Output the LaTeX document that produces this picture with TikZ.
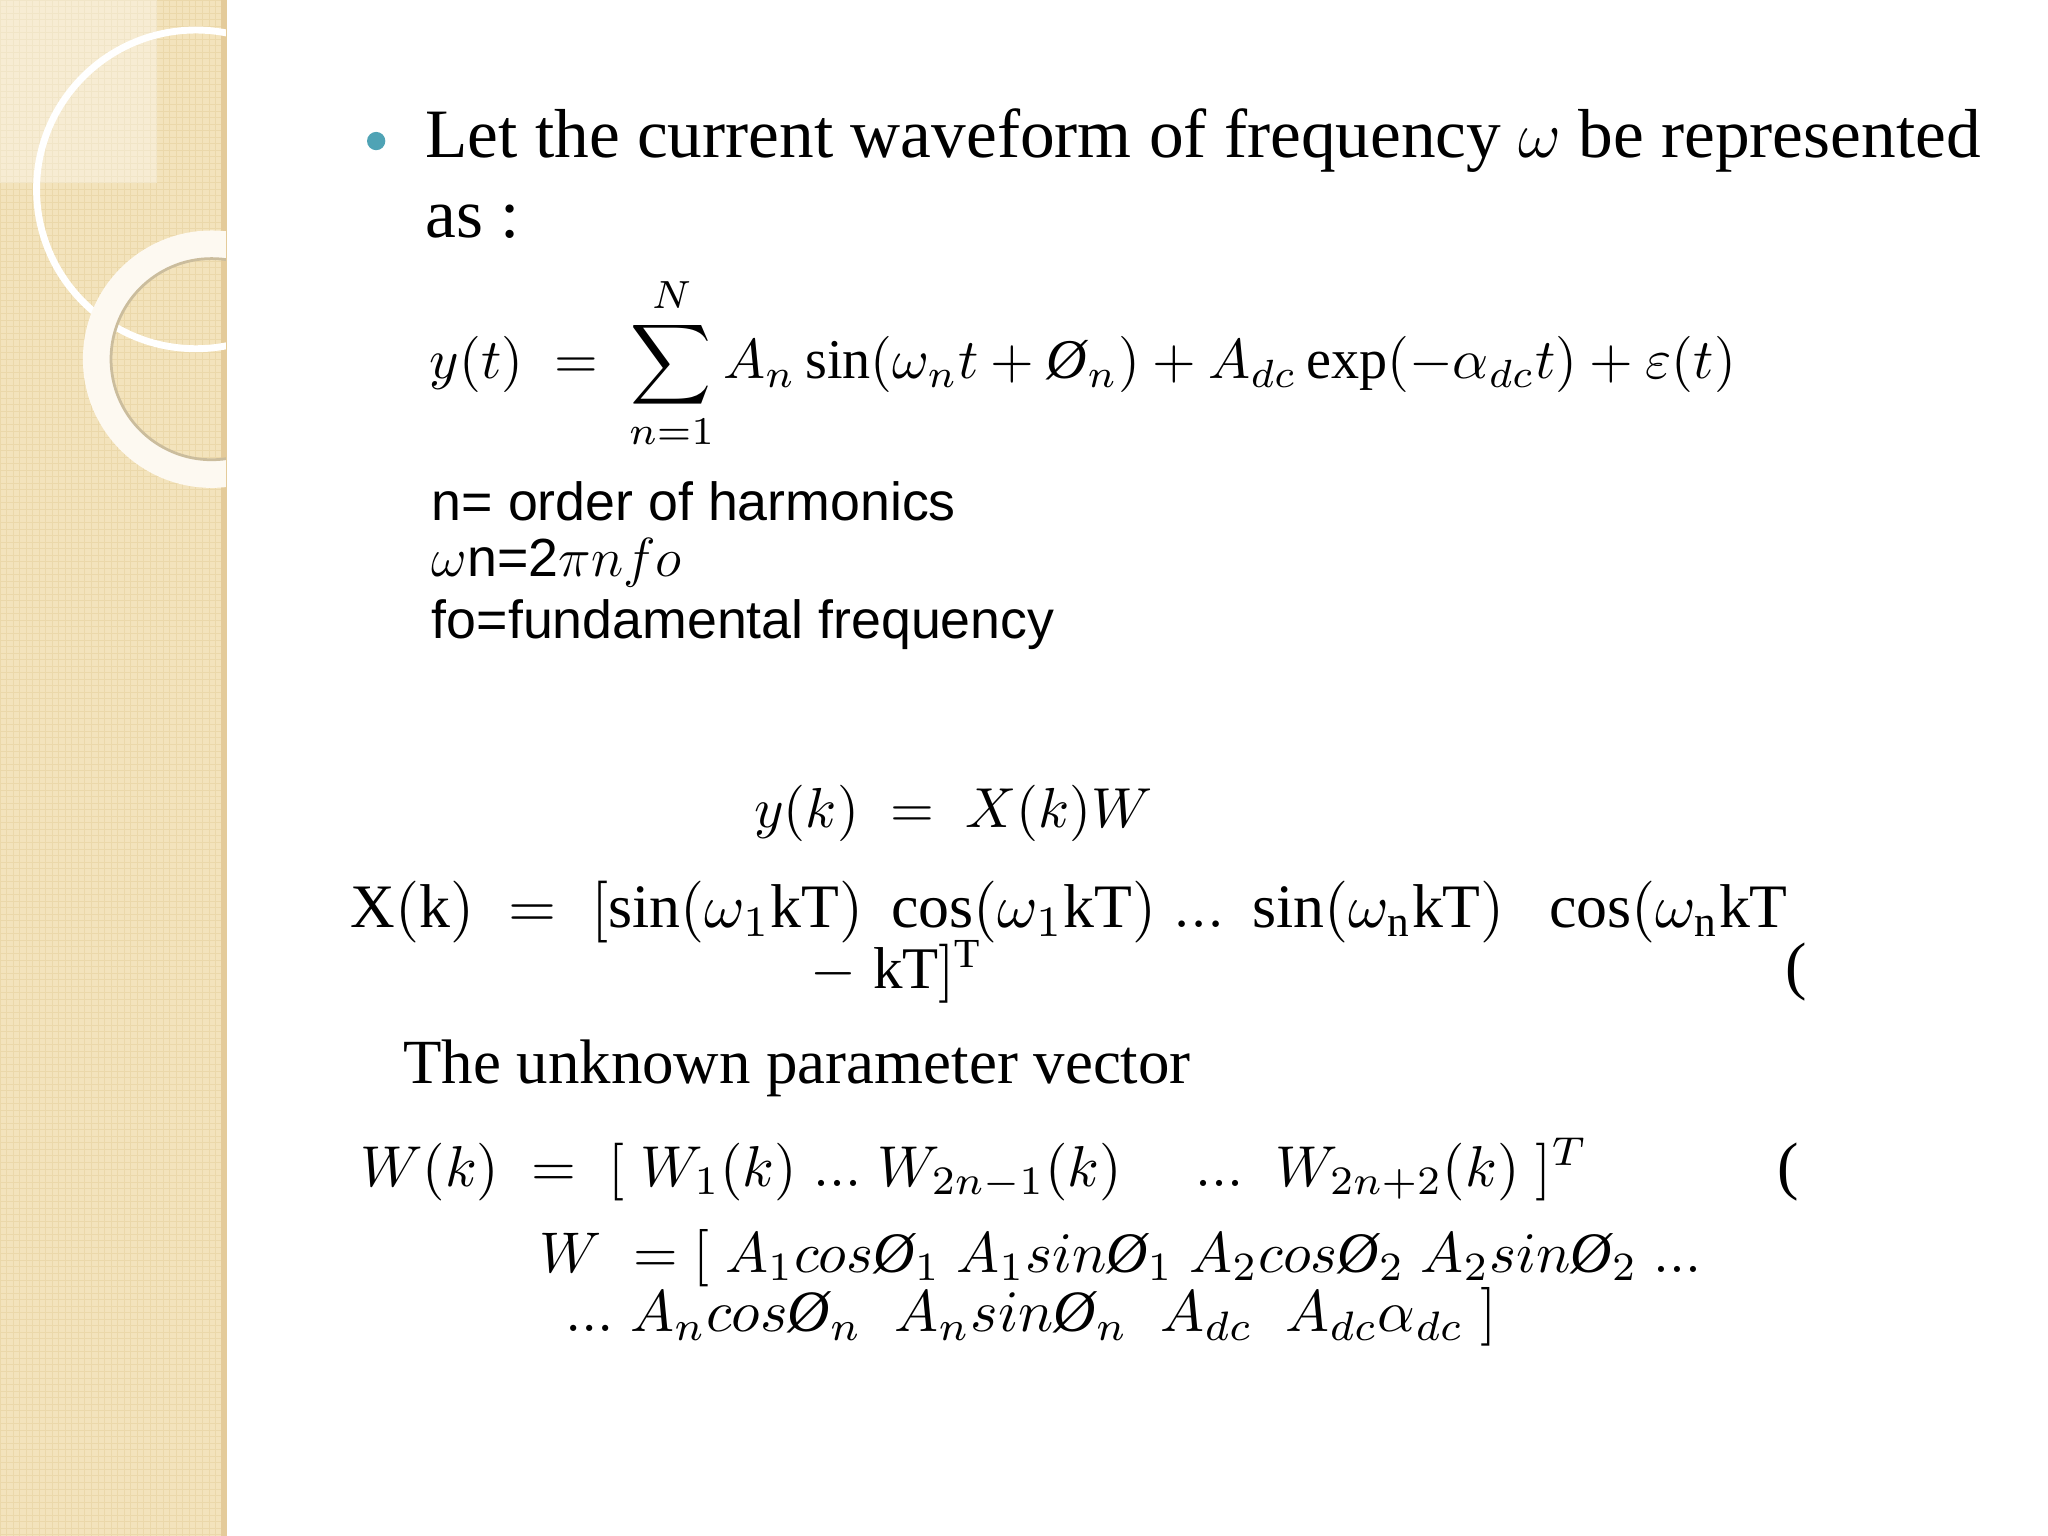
\documentclass[tikz,border=0pt]{standalone}
\usepackage{fontspec}
\usepackage{amsmath}
\setmainfont{Liberation Serif}
\newfontfamily\arialf{Liberation Sans}
\definecolor{band}{HTML}{F3E3BC}
\definecolor{bandd}{HTML}{EBD8AA}
\definecolor{bul}{HTML}{4FA3B5}
\tikzset{txt/.style={anchor=west,inner sep=0pt},eq/.style={anchor=center,inner sep=0pt}}
\begin{document}
\begin{tikzpicture}[x=1cm,y=1cm]
\useasboundingbox (0,0) rectangle (15.68,-11.76);
\fill[white] (0,0) rectangle (15.68,-11.76);
% left band
\fill[band] (0,0) rectangle (1.73,-11.76);
\foreach \i in {0,...,235}{\draw[bandd,line width=0.2pt] (0,-\i/20) -- (1.70,-\i/20);}
\foreach \i in {0,...,34}{\draw[bandd,line width=0.2pt] (\i/20,0) -- (\i/20,-11.76);}
\fill[bandd!85!brown] (1.69,0) rectangle (1.74,-11.76);
\begin{scope}
\clip (0,0) rectangle (1.73,-11.76);
\fill[white,opacity=0.35] (0,0) rectangle (1.2,-1.4);
\draw[white,line width=1.5pt] (1.5,-1.45) circle (1.22);
\draw[white!80!band,line width=6pt] (1.62,-2.75) circle (0.88);
\draw[bandd!70!gray,line width=0.6pt] (1.62,-2.75) circle (0.77);
\end{scope}
% bullet text
\fill[bul] (2.88,-1.08) circle (0.07);
\node[txt] (l1) at (3.25,-1.08) {\fontsize{15.1pt}{18pt}\selectfont Let the current waveform of frequency $\omega$ be represented};
\node[txt] (l2) at (3.25,-1.70) {\fontsize{15.1pt}{18pt}\selectfont as :};
% main equation
\node[eq] (e1) at (8.29,-2.78) {\resizebox{10.0cm}{!}{$\displaystyle y(t)\;=\;\sum_{n=1}^{N} A_n\sin(\omega_n t+\text{\itshape Ø}_n)+A_{dc}\exp(-\alpha_{dc}t)+\varepsilon(t)$}};
% definitions
\node[txt] (d1) at (3.30,-3.84) {\arialf\fontsize{11.7pt}{14pt}\selectfont n= order of harmonics};
\node[txt] (d2) at (3.30,-4.31) {\arialf\fontsize{11.7pt}{14pt}\selectfont $\omega$n=2$\pi n f o$};
\node[txt] (d3) at (3.30,-4.78) {\arialf\fontsize{11.7pt}{14pt}\selectfont fo=fundamental frequency};
% lower equations
\node[eq] (e2) at (7.30,-6.23) {\resizebox{3.05cm}{!}{$y(k)\;=\;X(k)W$}};
\node[txt] (e3) at (2.68,-6.98) {\resizebox{11.0cm}{!}{$\mathrm{X(k)}\;=\;[\sin(\omega_1\mathrm{kT})\;\cos(\omega_1\mathrm{kT})\;...\;\sin(\omega_\mathrm{n}\mathrm{kT})\;\;\cos(\omega_\mathrm{n}\mathrm{kT}$}};
\node[txt] (e4) at (6.20,-7.44) {\resizebox{1.32cm}{!}{$-\;\mathrm{kT}]^\mathrm{T}$}};
\node[txt] (p1) at (13.66,-7.44) {\fontsize{14pt}{16pt}\selectfont (};
\node[txt] (e5) at (3.08,-8.18) {\fontsize{13.7pt}{16pt}\selectfont The unknown parameter vector};
\node[txt] (e6) at (2.75,-8.95) {\resizebox{9.4cm}{!}{$W(k)\;=\;[\;W_1(k)\;...\;W_{2n-1}(k)\quad\;...\;\;W_{2n+2}(k)\;]^T$}};
\node[txt] (p2) at (13.60,-8.97) {\fontsize{14pt}{16pt}\selectfont (};
\node[txt] (e7) at (4.12,-9.63) {\resizebox{8.9cm}{!}{$W\;=[\;A_1cos\text{\itshape Ø}_1\;A_1sin\text{\itshape Ø}_1\;A_2cos\text{\itshape Ø}_2\;A_2sin\text{\itshape Ø}_2\;...$}};
\node[txt] (e8) at (4.32,-10.08) {\resizebox{7.13cm}{!}{$...\;A_ncos\text{\itshape Ø}_n\;\;A_nsin\text{\itshape Ø}_n\;\;A_{dc}\;\;A_{dc}\alpha_{dc}\;]$}};
\end{tikzpicture}
\end{document}
